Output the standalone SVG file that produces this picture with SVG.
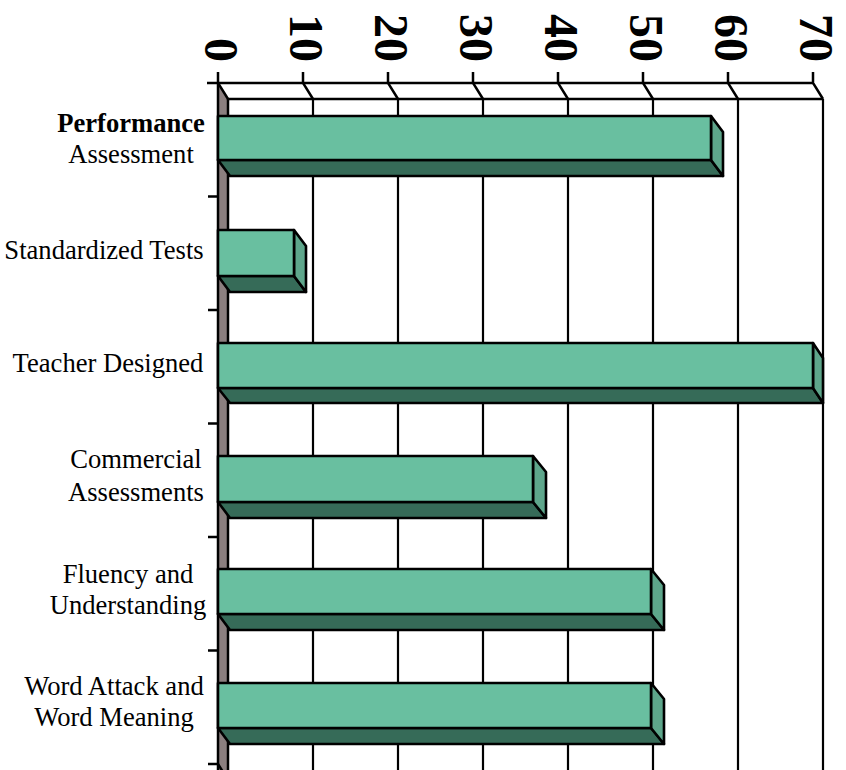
<svg xmlns="http://www.w3.org/2000/svg" width="846" height="770" viewBox="0 0 846 770">
<style>
.ax{stroke:#000;stroke-width:2.5;fill:none}
.gl{stroke:#000;stroke-width:2.2;fill:none}
.num{font-family:"Liberation Serif","Times New Roman",serif;font-weight:bold;font-size:48px;fill:#000}
.lab{font-family:"Liberation Serif","Times New Roman",serif;font-size:26.6px;fill:#000;text-anchor:middle}
.front{fill:#69BFA0;stroke:#000;stroke-width:2.6;stroke-linejoin:round}
.side{fill:#5EA68B;stroke:#000;stroke-width:2.6;stroke-linejoin:round}
.bot{fill:#366B58;stroke:#000;stroke-width:2.6;stroke-linejoin:round}
</style>
<rect width="846" height="770" fill="#fff"/>
<g id="axis">
  <polygon points="218,83 228,99 228,790 218,774" fill="#8B7F7F"/>
  <line class="ax" x1="218" y1="83" x2="218" y2="775"/>
  <line class="ax" x1="228" y1="99" x2="228" y2="775"/>
  <line class="ax" x1="207" y1="83" x2="813" y2="83"/>
  <line class="ax" x1="228" y1="99" x2="823" y2="99"/>
  <g class="ax">
    <path d="M218,72V83L228,99M303,72V83L313,99M388,72V83L398,99M473,72V83L483,99M558,72V83L568,99M643,72V83L653,99M728,72V83L738,99M813,72V83L823,99"/>
    <path d="M208,196.5H218M208,310H218M208,423.5H218M208,537H218M208,650.5H218M208,764H218L228,780"/>
  </g>
  <g class="gl">
    <path d="M313,99V770M398,99V770M483,99V770M568,99V770M653,99V770M738,99V770M823,99V770"/>
  </g>
  <g class="num">
    <text transform="translate(205,62) rotate(90)" text-anchor="end">0</text>
    <text transform="translate(290,62) rotate(90)" text-anchor="end">10</text>
    <text transform="translate(375,62) rotate(90)" text-anchor="end">20</text>
    <text transform="translate(460,62) rotate(90)" text-anchor="end">30</text>
    <text transform="translate(545,62) rotate(90)" text-anchor="end">40</text>
    <text transform="translate(630,62) rotate(90)" text-anchor="end">50</text>
    <text transform="translate(715,62) rotate(90)" text-anchor="end">60</text>
    <text transform="translate(800,62) rotate(90)" text-anchor="end">70</text>
  </g>
</g>
<g id="labels">
  <text class="lab" x="131" y="132" font-weight="bold">Performance</text>
  <text class="lab" x="131" y="163">Assessment</text>
  <text class="lab" x="104" y="259">Standardized Tests</text>
  <text class="lab" x="108" y="372">Teacher Designed</text>
  <text class="lab" x="136" y="468">Commercial</text>
  <text class="lab" x="136" y="501">Assessments</text>
  <text class="lab" x="128" y="583">Fluency and</text>
  <text class="lab" x="128" y="614">Understanding</text>
  <text class="lab" x="114" y="695">Word Attack and</text>
  <text class="lab" x="114" y="726">Word Meaning</text>
</g>
<g id="bar1">
  <polygon class="bot" points="218,160 711,160 723,176 230,176"/>
  <polygon class="side" points="711,116 723,132 723,176 711,160"/>
  <rect class="front" x="218" y="116" width="493" height="44"/>
</g>
<g id="bar2">
  <polygon class="bot" points="218,276 294,276 306,292 230,292"/>
  <polygon class="side" points="294,230 306,246 306,292 294,276"/>
  <rect class="front" x="218" y="230" width="76" height="46"/>
</g>
<g id="bar3">
  <polygon class="bot" points="218,388 813,388 823,403 230,403"/>
  <polygon class="side" points="813,343 823,358 823,403 813,388"/>
  <rect class="front" x="218" y="343" width="595" height="45"/>
</g>
<g id="bar4">
  <polygon class="bot" points="218,502 533,502 546,518 230,518"/>
  <polygon class="side" points="533,456 546,472 546,518 533,502"/>
  <rect class="front" x="218" y="456" width="315" height="46"/>
</g>
<g id="bar5">
  <polygon class="bot" points="218,614 651,614 664,630 230,630"/>
  <polygon class="side" points="651,569 664,585 664,630 651,614"/>
  <rect class="front" x="218" y="569" width="433" height="45"/>
</g>
<g id="bar6">
  <polygon class="bot" points="218,728 651,728 664,744 230,744"/>
  <polygon class="side" points="651,683 664,699 664,744 651,728"/>
  <rect class="front" x="218" y="683" width="433" height="45"/>
</g>
</svg>
